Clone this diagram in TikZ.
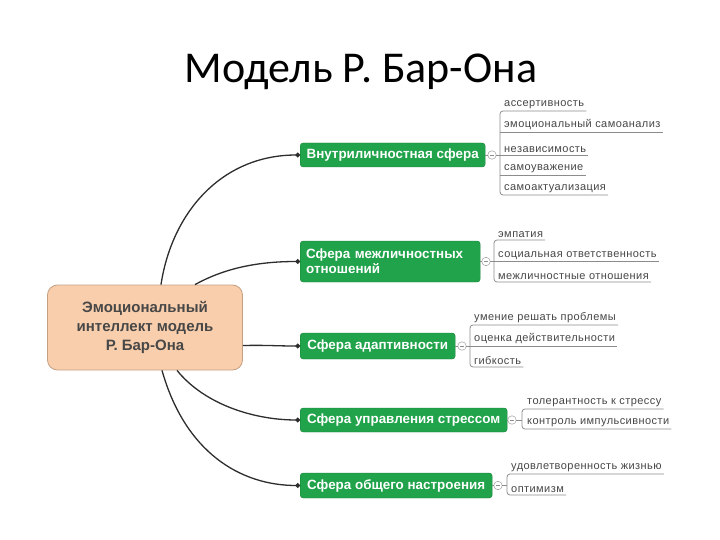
\documentclass[tikz,border=0pt]{standalone}
\usepackage{fontspec}
\setmainfont{Liberation Sans}
\newfontfamily\titlefont{Carlito}
\newfontfamily\leaffont[LetterSpace=4]{Liberation Sans}
\usetikzlibrary{arrows.meta,calc}
\definecolor{gbox}{RGB}{32,163,74}
\definecolor{gboxdark}{RGB}{25,130,58}
\definecolor{peach}{RGB}{249,206,172}
\definecolor{peachdark}{RGB}{196,160,130}
\definecolor{leaftext}{RGB}{70,70,70}
\definecolor{brk}{RGB}{140,140,140}
\definecolor{conn}{RGB}{45,45,45}
\tikzset{
  sphere/.style={draw=gboxdark, fill=gbox, rounded corners=3pt, text=white,
    font=\bfseries\fontsize{13.4}{15}\selectfont, inner xsep=5pt, anchor=west, minimum height=24pt},
  leaf/.style={anchor=south west, inner xsep=0pt, inner ysep=2pt, text=leaftext,
    font=\leaffont\fontsize{11}{13}\selectfont},
  toggle/.style={circle, draw=brk, fill=white, minimum size=8.5pt, inner sep=0pt},
  uline/.style={draw=brk, line width=0.8pt},
  bracket/.style={draw=brk, line width=0.8pt, rounded corners=3pt},
  link/.style={draw=conn, line width=1.3pt, -{Circle[length=4.5pt]}},
}
\newcommand{\togglemark}[1]{\draw[brk, line width=0.7pt] ([xshift=-2pt]#1.center) -- ([xshift=2pt]#1.center);}
\begin{document}
\begin{tikzpicture}[x=1pt,y=-1pt]
\useasboundingbox (0,0) rectangle (720,540);

% title
\node[font=\titlefont\fontsize{44}{50}\selectfont, anchor=base] (title) at (361,83) {Модель Р. Бар-Она};

% root
\node[draw=peachdark, fill=peach, rounded corners=10pt, line width=0.8pt,
  minimum width=195pt, minimum height=85pt, align=center, text=black!72,
  font=\bfseries\fontsize{15}{19}\selectfont] (root) at (145,327.5)
  {Эмоциональный\\интеллект модель\\Р. Бар-Она};

% spheres
\node[sphere, minimum width=185pt] (s1) at (300,155) {Внутриличностная сфера};
\node[sphere, minimum width=180pt, minimum height=41pt, align=left, text width=168pt] (s2) at (300,261.5)
  {Сфера межличностных\\отношений};
\node[sphere, minimum width=155pt, minimum height=26pt] (s3) at (300,346) {Сфера адаптивности};
\node[sphere, minimum width=207pt] (s4) at (300,420) {Сфера управления стрессом};
\node[sphere, minimum width=192pt, minimum height=25pt] (s5) at (300,485.5) {Сфера общего настроения};

% connectors from root
\coordinate (r1) at ([xshift=16pt]root.north);
\coordinate (r2) at ([xshift=50pt]root.north);
\coordinate (r3) at ([yshift=-18pt]root.east);
\coordinate (r4) at ([xshift=32pt]root.south);
\coordinate (r5) at ([xshift=17pt]root.south);
\draw[link] (r1) .. controls (172,212) and (222,155) .. (s1.west);
\draw[link] (r2) .. controls (225,268) and (258,261.5) .. (s2.west);
\draw[link] (r3) .. controls (268,345) and (275,346) .. (s3.west);
\draw[link] (r4) .. controls (205,405) and (255,420) .. (s4.west);
\draw[link] (r5) .. controls (185,452) and (240,485.5) .. (s5.west);

% ---------- group 1 ----------
\node[toggle] (t1) at (492,155) {};
\togglemark{t1}
\draw[uline] (s1.east) -- (t1.west);
\node[leaf] (a1) at (504,111) {ассертивность};
\node[leaf] (a2) at (504,132) {эмоциональный самоанализ};
\node[leaf] (a3) at (504,155) {независимость};
\node[leaf] (a4) at (504,175) {самоуважение};
\node[leaf] (a5) at (504,195) {самоактуализация};
\coordinate (b1) at (500,155);
\draw[uline] (t1.east) -- (b1);
\draw[bracket] ([xshift=2pt]a1.south east) -- (a1.south west -| b1) -- (a5.south west -| b1) -- ([xshift=2pt]a5.south east);
\draw[uline] (a2.south west -| b1) -- ([xshift=2pt]a2.south east);
\draw[uline] (a3.south west -| b1) -- ([xshift=2pt]a3.south east);
\draw[uline] (a4.south west -| b1) -- ([xshift=2pt]a4.south east);

% ---------- group 2 ----------
\node[toggle] (t2) at (486,261.5) {};
\togglemark{t2}
\draw[uline] (s2.east) -- (t2.west);
\node[leaf] (e1) at (498,240) {эмпатия};
\node[leaf] (e2) at (498,261.5) {социальная ответственность};
\node[leaf] (e3) at (498,282) {межличностные отношения};
\coordinate (b2) at (494,261.5);
\draw[uline] (t2.east) -- (b2);
\draw[bracket] ([xshift=2pt]e1.south east) -- (e1.south west -| b2) -- (e3.south west -| b2) -- ([xshift=2pt]e3.south east);
\draw[uline] (e2.south west -| b2) -- ([xshift=2pt]e2.south east);

% ---------- group 3 ----------
\node[toggle] (t3) at (462,346) {};
\togglemark{t3}
\draw[uline] (s3.east) -- (t3.west);
\node[leaf] (d1) at (474,325) {умение решать проблемы};
\node[leaf] (d2) at (474,346) {оценка действительности};
\node[leaf] (d3) at (474,367) {гибкость};
\coordinate (b3) at (470,346);
\draw[uline] (t3.east) -- (b3);
\draw[bracket] ([xshift=2pt]d1.south east) -- (d1.south west -| b3) -- (d3.south west -| b3) -- ([xshift=2pt]d3.south east);
\draw[uline] (d2.south west -| b3) -- ([xshift=2pt]d2.south east);

% ---------- group 4 ----------
\node[toggle] (t4) at (512,420) {};
\togglemark{t4}
\draw[uline] (s4.east) -- (t4.west);
\node[leaf] (f1) at (527,409) {толерантность к стрессу};
\node[leaf] (f2) at (527,429) {контроль импульсивности};
\coordinate (b4) at (522,420);
\draw[uline] (t4.east) -- (b4);
\draw[bracket] ([xshift=2pt]f1.south east) -- (f1.south west -| b4) -- (f2.south west -| b4) -- ([xshift=2pt]f2.south east);

% ---------- group 5 ----------
\node[toggle] (t5) at (498,485.5) {};
\togglemark{t5}
\draw[uline] (s5.east) -- (t5.west);
\node[leaf] (g1) at (511,474) {удовлетворенность жизнью};
\node[leaf] (g2) at (511,495) {оптимизм};
\coordinate (b5) at (507,485.5);
\draw[uline] (t5.east) -- (b5);
\draw[bracket] ([xshift=2pt]g1.south east) -- (g1.south west -| b5) -- (g2.south west -| b5) -- ([xshift=2pt]g2.south east);
\end{tikzpicture}
\end{document}
